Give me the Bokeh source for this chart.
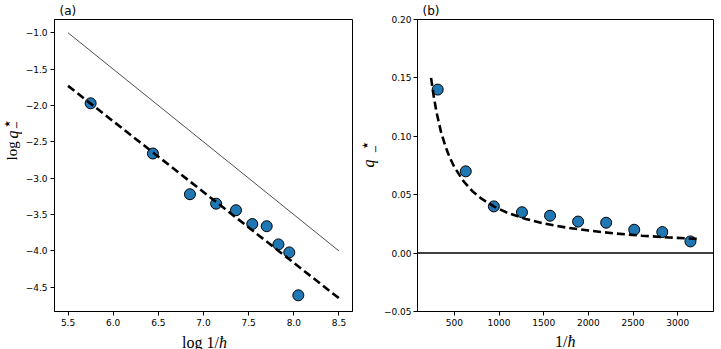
import math

from bokeh.embed import file_html
from bokeh.layouts import column, row
from bokeh.models import CustomJSTickFormatter, FixedTicker, Label, Range1d, Span
from bokeh.plotting import figure
from bokeh.resources import INLINE

# ---- panel (a): log q*_- against log 1/hbar ----
log_inv_hbar = [5.75, 6.44, 6.85, 7.14, 7.36, 7.54, 7.70, 7.83, 7.95, 8.05]
log_q = [-1.97, -2.66, -3.22, -3.35, -3.44, -3.63, -3.66, -3.91, -4.02, -4.61]
fit_a_x = [5.5, 8.5]
fit_a_y = [-1.73, -4.65]
guide_a_x = [5.5, 8.5]
guide_a_y = [-1.0, -4.0]
xticks_a = [5.5, 6.0, 6.5, 7.0, 7.5, 8.0, 8.5]
yticks_a = [-1.0, -1.5, -2.0, -2.5, -3.0, -3.5, -4.0, -4.5]

# ---- panel (b): q*_- against 1/hbar ----
inv_hbar = [314, 628, 942, 1257, 1571, 1885, 2199, 2513, 2827, 3142]
q_star = [0.140, 0.070, 0.040, 0.035, 0.032, 0.027, 0.026, 0.020, 0.018, 0.010]
fit_b_x = [240, 270, 300, 350, 400, 450, 500, 600, 700, 800, 950, 1100,
           1300, 1500, 1750, 2000, 2300, 2600, 2900, 3250]
fit_b_q = [0.150, 0.134, 0.121, 0.104, 0.0915, 0.0816, 0.0737, 0.0618,
           0.0532, 0.0468, 0.0396, 0.0343, 0.0292, 0.0254, 0.0219, 0.0193,
           0.0168, 0.0149, 0.0134, 0.0120]
xticks_b = [500, 1000, 1500, 2000, 2500, 3000]
yticks_b = [-0.05, 0.0, 0.05, 0.10, 0.15, 0.20]

BLUE = "#1f77b4"
SERIF = "Liberation Serif"
SANS = "DejaVu Sans"
UP = math.pi / 2
PANEL_H = 18 + 293 + 18


def tick_formatter(digits):
    return CustomJSTickFormatter(
        args=dict(d=digits),
        code="const s = Math.abs(tick).toFixed(d); "
             "return (tick < -1e-12 ? '\u2212' : '') + s;")


def make_panel(x_range, y_range, left_border, title, ystandoff=3):
    p = figure(width=left_border + 299 + 8, height=PANEL_H,
               x_range=x_range, y_range=y_range,
               output_backend="svg", toolbar_location=None,
               min_border_left=left_border, min_border_right=8,
               min_border_top=18, min_border_bottom=18)
    p.grid.visible = False
    p.outline_line_color = "black"
    p.outline_line_width = 1
    p.outline_line_alpha = 1
    p.title.text = title
    p.title.align = "left"
    p.title.offset = 5
    p.title.standoff = 3
    p.title.text_font = SANS
    p.title.text_font_size = "12px"
    p.title.text_font_style = "normal"
    p.title.text_color = "black"
    for ax in (p.xaxis[0], p.yaxis[0]):
        ax.axis_line_color = "black"
        ax.major_tick_line_color = "black"
        ax.major_tick_out = 4
        ax.major_tick_in = 0
        ax.minor_tick_line_color = None
        ax.major_label_text_font = SANS
        ax.major_label_text_font_size = "9px"
        ax.major_label_text_color = "black"
        ax.major_label_standoff = 3
    p.yaxis[0].major_label_standoff = ystandoff
    return p


def strip(width, height):
    """A bare canvas (no axes) that only carries axis-title text."""
    s = figure(width=width, height=height, x_range=Range1d(0, 1),
               y_range=Range1d(0, 1), output_backend="svg",
               toolbar_location=None, x_axis_location=None,
               y_axis_location=None, min_border=0)
    s.grid.visible = False
    s.outline_line_color = None
    return s


def text(p, x, y, s, size, font=SERIF, style="normal", align="left",
         baseline="alphabetic", angle=0.0):
    p.add_layout(Label(x=x, y=y, x_units="screen", y_units="screen", text=s,
                       text_font=font, text_font_size=size,
                       text_font_style=style, text_align=align,
                       text_baseline=baseline, angle=angle,
                       text_color="black"))


# ---------------- panel (a) ----------------
pa = make_panel(Range1d(5.35, 8.65), Range1d(-4.8325, -0.8175), 31, "(a)")
pa.xaxis.ticker = FixedTicker(ticks=xticks_a)
pa.yaxis.ticker = FixedTicker(ticks=yticks_a)
pa.xaxis.formatter = tick_formatter(1)
pa.yaxis.formatter = tick_formatter(1)

pa.line(guide_a_x, guide_a_y, line_color="black", line_width=0.7)
pa.scatter(log_inv_hbar, log_q, size=11, fill_color=BLUE,
           line_color="black", line_width=1)
pa.line(fit_a_x, fit_a_y, line_color="black", line_width=2.6,
        line_dash="8 4")

# y title: log q with a star above and a minus below
ya = strip(22, PANEL_H)
text(ya, 11.5, 151, "log", "15px", angle=UP)
text(ya, 11.5, 173, "q", "16px", style="italic", angle=UP)
text(ya, 6.5, 187.5, "★", "8px", font=SANS, align="center",
     baseline="middle", angle=UP)
text(ya, 15, 186.5, "−", "10px", font=SANS, align="center",
     baseline="middle", angle=UP)

# ---------------- panel (b) ----------------
pb = make_panel(Range1d(88, 3400), Range1d(-0.05, 0.20), 34, "(b)",
                ystandoff=2)
pb.xaxis.ticker = FixedTicker(ticks=xticks_b)
pb.yaxis.ticker = FixedTicker(ticks=yticks_b)
pb.xaxis.formatter = tick_formatter(0)
pb.yaxis.formatter = tick_formatter(2)

pb.add_layout(Span(location=0, dimension="width", line_color="black",
                   line_width=1.5))
pb.scatter(inv_hbar, q_star, size=11, fill_color=BLUE,
           line_color="black", line_width=1)
pb.line(fit_b_x, fit_b_q, line_color="black", line_width=2.6,
        line_dash="8 4")

yb = strip(20, PANEL_H)
text(yb, 8, 144, "q", "16px", style="italic", angle=UP)
text(yb, 4.5, 166, "★", "8px", font=SANS, align="center",
     baseline="middle", angle=UP)
text(yb, 14, 162.5, "−", "10px", font=SANS, align="center",
     baseline="middle", angle=UP)

# x titles for both panels, on one strip under the plots
xs = strip(721, 349 - PANEL_H)
text(xs, 218.5, 7.5, "log 1/", "16px", align="right")
text(xs, 218.5, 7.5, "ħ", "16px", style="italic")
text(xs, 567, 8.5, "1/", "16px", align="right")
text(xs, 567, 8.5, "ħ", "16px", style="italic")

layout = column(row(ya, pa, yb, pb), xs)
open("out.html", "w").write(file_html(layout, INLINE))
